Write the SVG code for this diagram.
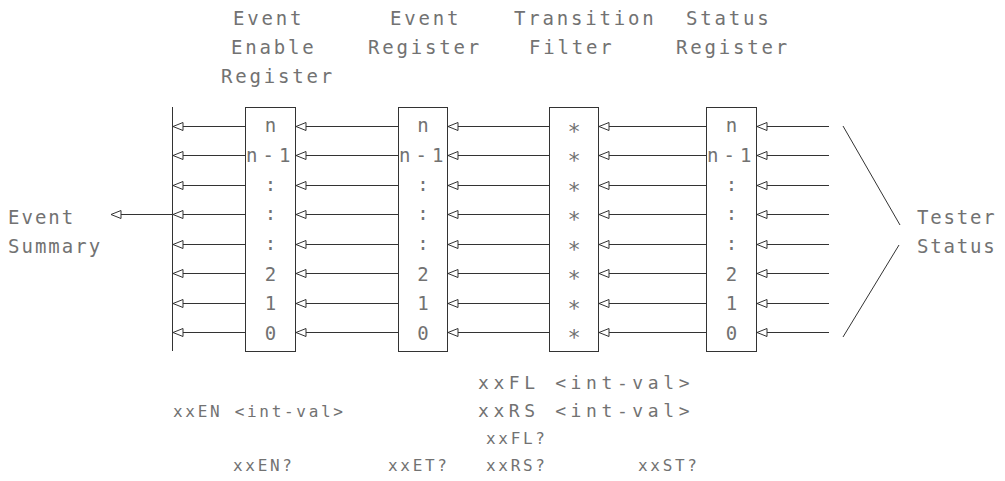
<svg xmlns="http://www.w3.org/2000/svg" width="1005" height="481" viewBox="0 0 1005 481">
<style>
  .t { font-family: "DejaVu Sans Mono", "Liberation Mono", monospace; font-size: 19px; fill: #727272; letter-spacing: 2.8px; }
  .s { font-family: "DejaVu Sans Mono", "Liberation Mono", monospace; font-size: 16px; fill: #727272; letter-spacing: 2.7px; }
  .s2 { font-family: "DejaVu Sans Mono", "Liberation Mono", monospace; font-size: 18px; fill: #727272; letter-spacing: 4.6px; }
  .lb { font-family: "DejaVu Sans Mono", "Liberation Mono", monospace; font-size: 19px; fill: #727272; text-anchor: middle; }
  .nm { font-family: "DejaVu Sans Mono", "Liberation Mono", monospace; font-size: 19px; fill: #727272; letter-spacing: 5px; }
  .ast { font-family: "DejaVu Sans Mono", "Liberation Mono", monospace; font-size: 22px; fill: #727272; text-anchor: middle; }
  .box { fill: #fff; stroke: #333; stroke-width: 1; }
  .ln { stroke: #333; stroke-width: 1; fill: none; }
  .ar { stroke: #333; stroke-width: 1; fill: none; marker-end: url(#ah); }
</style>
<defs>
  <marker id="ah" viewBox="-1 -5 12 10" refX="10" refY="0" markerWidth="12" markerHeight="10" markerUnits="userSpaceOnUse" orient="auto">
    <path d="M0,-4 L10,0 L0,4 Z" fill="#fff" stroke="#333" stroke-width="1"/>
  </marker>
</defs>
<rect width="1005" height="481" fill="#fff"/>

<g id="headers">
  <text class="t" x="233" y="25">Event</text>
  <text class="t" x="231" y="54">Enable</text>
  <text class="t" x="221" y="83">Register</text>
  <text class="t" x="390" y="25">Event</text>
  <text class="t" x="368" y="54">Register</text>
  <text class="t" x="514" y="25">Transition</text>
  <text class="t" x="529" y="54">Filter</text>
  <text class="t" x="686" y="25">Status</text>
  <text class="t" x="676" y="54">Register</text>
</g>

<g id="connectors">
  <line class="ln" x1="172.5" y1="107" x2="172.5" y2="351"/>
  <path class="ar" d="M172,214.5 H111"/>
  <path class="ln" d="M843,126 L900,225 M899,245 L843,337"/>
  <g id="rows">
    <path class="ar" d="M245,126.5 H173"/><path class="ar" d="M398,126.5 H296"/><path class="ar" d="M549,126.5 H448"/><path class="ar" d="M706,126.5 H599"/><path class="ar" d="M829,126.5 H757"/>
    <path class="ar" d="M245,155.5 H173"/><path class="ar" d="M398,155.5 H296"/><path class="ar" d="M549,155.5 H448"/><path class="ar" d="M706,155.5 H599"/><path class="ar" d="M829,155.5 H757"/>
    <path class="ar" d="M245,185.5 H173"/><path class="ar" d="M398,185.5 H296"/><path class="ar" d="M549,185.5 H448"/><path class="ar" d="M706,185.5 H599"/><path class="ar" d="M829,185.5 H757"/>
    <path class="ar" d="M245,214.5 H173"/><path class="ar" d="M398,214.5 H296"/><path class="ar" d="M549,214.5 H448"/><path class="ar" d="M706,214.5 H599"/><path class="ar" d="M829,214.5 H757"/>
    <path class="ar" d="M245,244.5 H173"/><path class="ar" d="M398,244.5 H296"/><path class="ar" d="M549,244.5 H448"/><path class="ar" d="M706,244.5 H599"/><path class="ar" d="M829,244.5 H757"/>
    <path class="ar" d="M245,273.5 H173"/><path class="ar" d="M398,273.5 H296"/><path class="ar" d="M549,273.5 H448"/><path class="ar" d="M706,273.5 H599"/><path class="ar" d="M829,273.5 H757"/>
    <path class="ar" d="M245,303.5 H173"/><path class="ar" d="M398,303.5 H296"/><path class="ar" d="M549,303.5 H448"/><path class="ar" d="M706,303.5 H599"/><path class="ar" d="M829,303.5 H757"/>
    <path class="ar" d="M245,332.5 H173"/><path class="ar" d="M398,332.5 H296"/><path class="ar" d="M549,332.5 H448"/><path class="ar" d="M706,332.5 H599"/><path class="ar" d="M829,332.5 H757"/>
  </g>
</g>

<g id="enable-register">
  <rect class="box" x="245.5" y="107.5" width="50" height="244"/>
  <text class="lb" x="270.5" y="132">n</text>
  <text class="nm" x="246" y="162">n-1</text>
  <text class="lb" x="270.5" y="191">:</text>
  <text class="lb" x="270.5" y="220">:</text>
  <text class="lb" x="270.5" y="250">:</text>
  <text class="lb" x="270.5" y="280.5">2</text>
  <text class="lb" x="270.5" y="310">1</text>
  <text class="lb" x="270.5" y="339.5">0</text>
</g>

<g id="event-register">
  <rect class="box" x="398.5" y="107.5" width="49" height="244"/>
  <text class="lb" x="423" y="132">n</text>
  <text class="nm" x="399" y="162">n-1</text>
  <text class="lb" x="423" y="191">:</text>
  <text class="lb" x="423" y="220">:</text>
  <text class="lb" x="423" y="250">:</text>
  <text class="lb" x="423" y="280.5">2</text>
  <text class="lb" x="423" y="310">1</text>
  <text class="lb" x="423" y="339.5">0</text>
</g>

<g id="transition-filter">
  <rect class="box" x="549.5" y="107.5" width="49" height="244"/>
  <text class="ast" x="574" y="139">*</text>
  <text class="ast" x="574" y="168">*</text>
  <text class="ast" x="574" y="198">*</text>
  <text class="ast" x="574" y="227">*</text>
  <text class="ast" x="574" y="257">*</text>
  <text class="ast" x="574" y="286">*</text>
  <text class="ast" x="574" y="316">*</text>
  <text class="ast" x="574" y="345">*</text>
</g>

<g id="status-register">
  <rect class="box" x="706.5" y="107.5" width="50" height="244"/>
  <text class="lb" x="731.5" y="132">n</text>
  <text class="nm" x="707" y="162">n-1</text>
  <text class="lb" x="731.5" y="191">:</text>
  <text class="lb" x="731.5" y="220">:</text>
  <text class="lb" x="731.5" y="250">:</text>
  <text class="lb" x="731.5" y="280.5">2</text>
  <text class="lb" x="731.5" y="310">1</text>
  <text class="lb" x="731.5" y="339.5">0</text>
</g>

<g id="event-summary">
  <text class="t" x="8" y="224" style="letter-spacing:2px">Event</text>
  <text class="t" x="8" y="253" style="letter-spacing:2px">Summary</text>
</g>

<g id="tester-status">
  <text class="t" x="917" y="224" style="letter-spacing:1.8px">Tester</text>
  <text class="t" x="917" y="253" style="letter-spacing:1.8px">Status</text>
</g>

<g id="commands">
  <text class="s2" x="478" y="389">xxFL &lt;int-val&gt;</text>
  <text class="s" x="173" y="417">xxEN &lt;int-val&gt;</text>
  <text class="s2" x="478" y="417">xxRS &lt;int-val&gt;</text>
  <text class="s" x="486" y="444">xxFL?</text>
  <text class="s" x="233" y="471">xxEN?</text>
  <text class="s" x="388" y="471">xxET?</text>
  <text class="s" x="486" y="471">xxRS?</text>
  <text class="s" x="638" y="471">xxST?</text>
</g>
</svg>
